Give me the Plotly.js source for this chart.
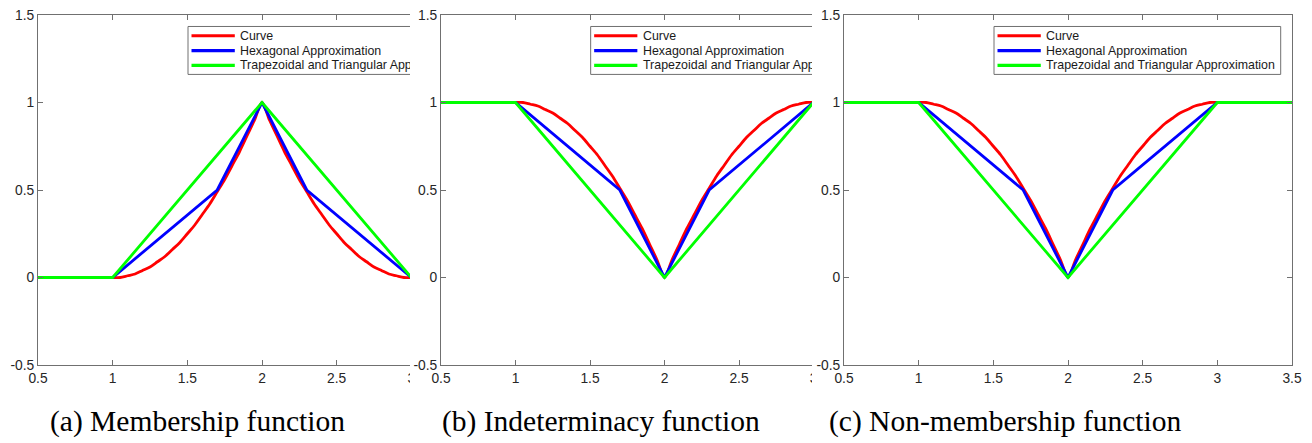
<!DOCTYPE html>
<html><head><meta charset="utf-8">
<script src="https://cdn.plot.ly/plotly-3.0.1.min.js"></script>
<style>
html,body{margin:0;padding:0;background:#fff;width:1312px;height:443px;overflow:hidden;}
.panel{position:absolute;top:0;height:443px;background:#fff;}
</style></head><body>
<div id="pa" class="panel"></div>
<div id="pb" class="panel"></div>
<div id="pc" class="panel"></div>
<script>
// ---------- data ----------
const seriesNames = ['Curve', 'Hexagonal Approximation', 'Trapezoidal and Triangular Approximation'];
const seriesColors = ['#ff0000', '#0000ff', '#00ff00'];
const captions = ['(a) Membership function', '(b) Indeterminacy function', '(c) Non-membership function'];

const xTickVals = [0.5, 1, 1.5, 2, 2.5, 3, 3.5];
const xTickText = ['0.5', '1', '1.5', '2', '2.5', '3', '3.5'];
const yTickVals = [-0.5, 0, 0.5, 1, 1.5];
const yTickText = ['-0.5', '0', '0.5', '1', '1.5'];

const curveX = [0.5, 1.00, 1.05, 1.10, 1.15, 1.20, 1.25, 1.30, 1.35, 1.40, 1.45, 1.50, 1.55, 1.60, 1.65, 1.70, 1.75, 1.80, 1.85, 1.90, 1.95,
                2.00, 2.05, 2.10, 2.15, 2.20, 2.25, 2.30, 2.35, 2.40, 2.45, 2.50, 2.55, 2.60, 2.65, 2.70, 2.75, 2.80, 2.85, 2.90, 2.95, 3.00, 3.5];
const memCurveY = [0, 0, 0.00, 0.01, 0.02, 0.04, 0.06, 0.09, 0.12, 0.16, 0.20, 0.25, 0.30, 0.36, 0.42, 0.49, 0.56, 0.64, 0.72, 0.81, 0.90,
                   1.00, 0.90, 0.81, 0.72, 0.64, 0.56, 0.49, 0.42, 0.36, 0.30, 0.25, 0.20, 0.16, 0.12, 0.09, 0.06, 0.04, 0.02, 0.01, 0.00, 0, 0];
const indCurveY = [1, 1, 1.00, 0.99, 0.98, 0.96, 0.94, 0.91, 0.88, 0.84, 0.80, 0.75, 0.70, 0.64, 0.58, 0.51, 0.44, 0.36, 0.28, 0.19, 0.10,
                   0.00, 0.10, 0.19, 0.28, 0.36, 0.44, 0.51, 0.58, 0.64, 0.70, 0.75, 0.80, 0.84, 0.88, 0.91, 0.94, 0.96, 0.98, 0.99, 1.00, 1, 1];
const nonCurveY = [1, 1, 1.00, 0.99, 0.98, 0.96, 0.94, 0.91, 0.88, 0.84, 0.80, 0.75, 0.70, 0.64, 0.58, 0.51, 0.44, 0.36, 0.28, 0.19, 0.10,
                   0.00, 0.10, 0.19, 0.28, 0.36, 0.44, 0.51, 0.58, 0.64, 0.70, 0.75, 0.80, 0.84, 0.88, 0.91, 0.94, 0.96, 0.98, 0.99, 1.00, 1, 1];

const memHexX = [0.5, 1, 1.7, 2, 2.3, 3];
const memHexY = [0, 0, 0.5, 1, 0.5, 0];
const indHexX = [0.5, 1, 1.7, 2, 2.3, 3, 3.5];
const indHexY = [1, 1, 0.5, 0, 0.5, 1, 1];
const nonHexX = [0.5, 1, 1.7, 2, 2.3, 3, 3.5];
const nonHexY = [1, 1, 0.5, 0, 0.5, 1, 1];

const memTriX = [0.5, 1, 2, 3];
const memTriY = [0, 0, 1, 0];
const indTriX = [0.5, 1, 2, 3, 3.5];
const indTriY = [1, 1, 0, 1, 1];
const nonTriX = [0.5, 1, 2, 3, 3.5];
const nonTriY = [1, 1, 0, 1, 1];

// ---------- drawing ----------
const axisColor = '#707070';
const tickFont = {family: 'Liberation Sans, Arial, sans-serif', size: 13.8, color: '#262626'};
const legendFont = {family: 'Liberation Sans, Arial, sans-serif', size: 12.4, color: '#1a1a1a'};
const captionFont = {family: 'Liberation Serif, Times New Roman, serif', size: 29.5, color: '#000000'};

const panels = [
  {id: 'pa', left: 0,   width: 500, ml: 37.7, capCenter: 197.5,
   series: [[curveX, memCurveY], [memHexX, memHexY], [memTriX, memTriY]]},
  {id: 'pb', left: 410, width: 500, ml: 30.5, capCenter: 600.5,
   series: [[curveX, indCurveY], [indHexX, indHexY], [indTriX, indTriY]]},
  {id: 'pc', left: 812, width: 500, ml: 32,   capCenter: 1005,
   series: [[curveX, nonCurveY], [nonHexX, nonHexY], [nonTriX, nonTriY]]}
];

const MT = 14.5, PW = 448, PH = 350.5, H = 443;

panels.forEach((p, i) => {
  const el = document.getElementById(p.id);
  el.style.left = p.left + 'px';
  el.style.width = p.width + 'px';
  const r = p.width - p.ml - PW, b = H - MT - PH;
  const rx = d => d / PW;          // px offset from plot left -> paper
  const ry = d => 1 - d / PH;      // px offset from plot top -> paper

  const traces = p.series.map((s, k) => ({
    x: s[0], y: s[1], type: 'scatter', mode: 'lines', name: seriesNames[k],
    line: k === 0 ? {color: seriesColors[k], width: 2.8, shape: 'spline', smoothing: 0.8}
                  : {color: seriesColors[k], width: 2.8},
    showlegend: false, hoverinfo: 'skip'
  }));

  const rows = [20.8, 35.6, 50.4];
  const shapes = [{
    type: 'rect', xref: 'paper', yref: 'paper', layer: 'above',
    x0: rx(150), x1: rx(436.7), y0: ry(11.5), y1: ry(59.5),
    line: {color: axisColor, width: 1}, fillcolor: '#ffffff'
  }];
  const annotations = [];
  rows.forEach((ry0, k) => {
    shapes.push({type: 'line', xref: 'paper', yref: 'paper', layer: 'above',
      x0: rx(153.5), x1: rx(196.8), y0: ry(ry0), y1: ry(ry0),
      line: {color: seriesColors[k], width: 3.2}});
    annotations.push({xref: 'paper', yref: 'paper', x: rx(200), y: ry(ry0),
      xanchor: 'left', yanchor: 'middle', showarrow: false, text: seriesNames[k], font: legendFont});
  });
  annotations.push({xref: 'paper', yref: 'paper', x: rx(p.capCenter - p.left - p.ml), y: ry(421.5 - MT),
    xanchor: 'center', yanchor: 'middle', showarrow: false, text: captions[i], font: captionFont});

  const axisBase = {
    ticks: 'inside', ticklen: 5, tickwidth: 1, tickcolor: axisColor,
    showline: true, linecolor: axisColor, linewidth: 1, mirror: 'ticks',
    showgrid: false, zeroline: false, tickfont: tickFont, fixedrange: true, tickmode: 'array'
  };

  const layout = {
    width: p.width, height: H,
    margin: {l: p.ml, r: r, t: MT, b: b, pad: 0},
    paper_bgcolor: '#ffffff', plot_bgcolor: '#ffffff',
    showlegend: false,
    xaxis: Object.assign({}, axisBase, {range: [0.5, 3.5], tickvals: xTickVals, ticktext: xTickText}),
    yaxis: Object.assign({}, axisBase, {range: [-0.5, 1.5], tickvals: yTickVals, ticktext: yTickText}),
    shapes: shapes, annotations: annotations
  };
  Plotly.newPlot(el, traces, layout, {displayModeBar: false, staticPlot: true});
});
</script>
</body></html>
